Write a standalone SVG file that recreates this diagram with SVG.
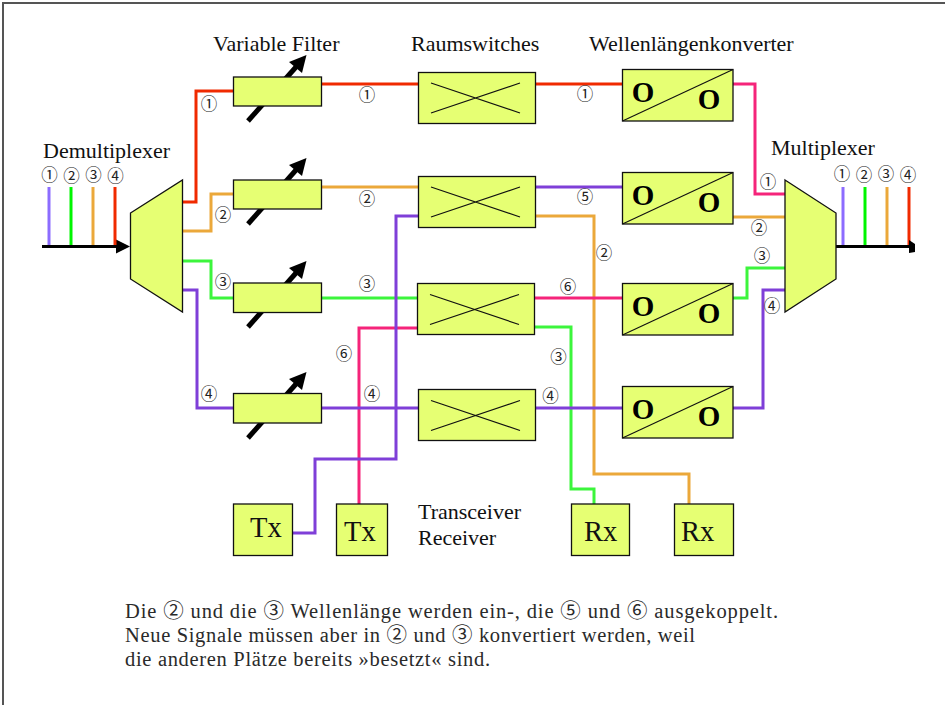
<svg xmlns="http://www.w3.org/2000/svg" width="945" height="705" viewBox="0 0 945 705">
<style>
.box{fill:#e6ff73;stroke:#111;stroke-width:1.3}
.w{fill:none;stroke-width:3;stroke-linejoin:miter}
.r{stroke:#f02a00}.o{stroke:#eba83a}.g{stroke:#3cf53c}.p{stroke:#7f3fd8}.k{stroke:#f5247a}.v{stroke:#8c6cff}.n{stroke:#00f500}
.bl{stroke:#000;stroke-width:3;fill:none}
.t{font-family:"Liberation Serif",serif;fill:#111;font-size:22px}
.c{font-family:"Noto Sans CJK JP",sans-serif;fill:#222;font-size:16.500px;text-anchor:middle;dominant-baseline:central}
.big{font-family:"Liberation Serif",serif;fill:#111;font-size:28.500px}
.oo{font-family:"Liberation Serif",serif;font-weight:bold;fill:#000;font-size:29px;text-anchor:middle}
.x{stroke:#111;stroke-width:1.2;fill:none}
.d{font-family:"Liberation Serif","Noto Sans CJK JP",serif;fill:#2a2a2a;font-size:20.500px}
</style>
<defs>
<g id="knob"><path d="M248 121L296 67" stroke="#000" stroke-width="5" fill="none"/><path d="M306.500 55L289 62L302 73Z" fill="#000"/></g>
<g id="xx"><path class="x" d="M0 0L89 30M0 30L89 0"/></g>
</defs>
<path d="M3 705V3H945" fill="none" stroke="#555" stroke-width="2"/>
<g id="connectors">
<path class="w r" d="M182 202H196V91H233M322 84H418M536 84H622"/>
<path class="w k" d="M733 84H755V194H785"/>
<path class="w o" d="M182 231H211V194H233M322 187H418M733 217H785"/>
<path class="w p" d="M536 187H622"/>
<path class="w o" d="M536 216H594V474H689V504"/>
<path class="w g" d="M182 261H211V298H233M322 298H417"/>
<path class="w k" d="M534 298H622"/>
<path class="w g" d="M733 298H747V268H785"/>
<path class="w g" d="M534 327H571V489H594V504"/>
<path class="w k" d="M417 328H359V504"/>
<path class="w p" d="M182 290H197V408H233M322 408H418M536 408H622M733 408H763V290H785"/>
<path class="w p" d="M418 216H396V459H315V533H292"/>
<path class="bl" d="M42 246.500H118"/><path d="M116 239.500L130 246.500L116 253.500Z" fill="#000"/>
<path class="bl" d="M836 246.500H910"/>
<path class="w v" d="M49 187V245"/><path class="w n" d="M71 187V245"/><path class="w o" d="M93 187V245"/><path class="w r" d="M115 187V245"/>
<path class="w v" d="M843 187V245"/><path class="w n" d="M865 187V245"/><path class="w o" d="M887 187V245"/><path class="w r" d="M909 187V245"/>
<path d="M909 240L915 244V252L909 253Z" fill="#000"/>
</g>
<g id="demux"><path class="box" d="M130.500 213L182.500 180V312L130.500 279Z"/></g>
<g id="mux"><path class="box" d="M785 180L836 213V279L785 312Z"/></g>
<g id="filter1"><use href="#knob"/><rect class="box" x="233.500" y="77" width="88" height="29"/></g>
<g id="filter2"><use href="#knob" y="103"/><rect class="box" x="233.500" y="180" width="88" height="29"/></g>
<g id="filter3"><use href="#knob" y="206"/><rect class="box" x="233.500" y="283" width="88" height="29.500"/></g>
<g id="filter4"><use href="#knob" y="317"/><rect class="box" x="233.500" y="393.500" width="88" height="29.500"/></g>
<g id="switch1"><rect class="box" x="418.500" y="72.500" width="117" height="51"/><use href="#xx" x="431" y="83"/></g>
<g id="switch2"><rect class="box" x="418.500" y="176.500" width="117" height="51"/><use href="#xx" x="431" y="187"/></g>
<g id="switch3"><rect class="box" x="417.500" y="283.500" width="117" height="51"/><use href="#xx" x="430" y="294.500"/></g>
<g id="switch4"><rect class="box" x="418.500" y="389.500" width="117" height="51"/><use href="#xx" x="431" y="400.500"/></g>
<g id="conv1"><rect class="box" x="622.500" y="69.500" width="110.500" height="51.500"/><path class="x" d="M622.500 121L733 69.500"/><text class="oo" x="643" y="101.500">O</text><text class="oo" x="709" y="109">O</text></g>
<g id="conv2"><rect class="box" x="622.500" y="172.500" width="110.500" height="51.500"/><path class="x" d="M622.500 224L733 172.500"/><text class="oo" x="643" y="204.500">O</text><text class="oo" x="709" y="212">O</text></g>
<g id="conv3"><rect class="box" x="622.500" y="283.500" width="110.500" height="51.500"/><path class="x" d="M622.500 335L733 283.500"/><text class="oo" x="643" y="315.500">O</text><text class="oo" x="709" y="323">O</text></g>
<g id="conv4"><rect class="box" x="622.500" y="386.500" width="110.500" height="51.500"/><path class="x" d="M622.500 438L733 386.500"/><text class="oo" x="643" y="418.500">O</text><text class="oo" x="709" y="426">O</text></g>
<g id="tx1"><rect class="box" x="233.500" y="504" width="59" height="51.500"/><text class="big" x="250" y="537">Tx</text></g>
<g id="tx2"><rect class="box" x="336.500" y="504" width="51" height="51.500"/><text class="big" x="344" y="541">Tx</text></g>
<g id="rx1"><rect class="box" x="571.500" y="504" width="58" height="51.500"/><text class="big" x="584" y="541">Rx</text></g>
<g id="rx2"><rect class="box" x="674.500" y="504" width="59" height="51.500"/><text class="big" x="681" y="541">Rx</text></g>
<g id="labels">
<text class="t" x="213" y="51">Variable Filter</text>
<text class="t" x="411" y="51">Raumswitches</text>
<text class="t" x="589" y="51">Wellenlängenkonverter</text>
<text class="t" x="43" y="158">Demultiplexer</text>
<text class="t" x="771" y="155">Multiplexer</text>
<text class="t" x="418" y="519">Transceiver</text>
<text class="t" x="418" y="545">Receiver</text>
<text class="c" x="49.500" y="174">①</text><text class="c" x="71.500" y="175">②</text><text class="c" x="93.500" y="174">③</text><text class="c" x="115.500" y="175">④</text>
<text class="c" x="842" y="173">①</text><text class="c" x="864" y="174">②</text><text class="c" x="886" y="173">③</text><text class="c" x="908" y="174">④</text>
<text class="c" x="209" y="103">①</text><text class="c" x="223" y="214">②</text><text class="c" x="223" y="281">③</text><text class="c" x="209" y="393">④</text>
<text class="c" x="367" y="94">①</text><text class="c" x="367" y="198">②</text><text class="c" x="367" y="283">③</text><text class="c" x="372" y="393">④</text>
<text class="c" x="585" y="93">①</text><text class="c" x="585" y="196">⑤</text><text class="c" x="568" y="285.500">⑥</text><text class="c" x="550.500" y="394.500">④</text>
<text class="c" x="604" y="252">②</text><text class="c" x="558.500" y="355.500">③</text><text class="c" x="344" y="353">⑥</text>
<text class="c" x="768" y="181">①</text><text class="c" x="759" y="227">②</text><text class="c" x="762" y="255">③</text><text class="c" x="772" y="305">④</text>
</g>
<g id="caption">
<text class="d" x="125" y="618" textLength="653">Die ② und die ③ Wellenlänge werden ein-, die ⑤ und ⑥ ausgekoppelt.</text>
<text class="d" x="125" y="642" textLength="570">Neue Signale müssen aber in ② und ③ konvertiert werden, weil</text>
<text class="d" x="125" y="666" textLength="365">die anderen Plätze bereits »besetzt« sind.</text>
</g>
</svg>
